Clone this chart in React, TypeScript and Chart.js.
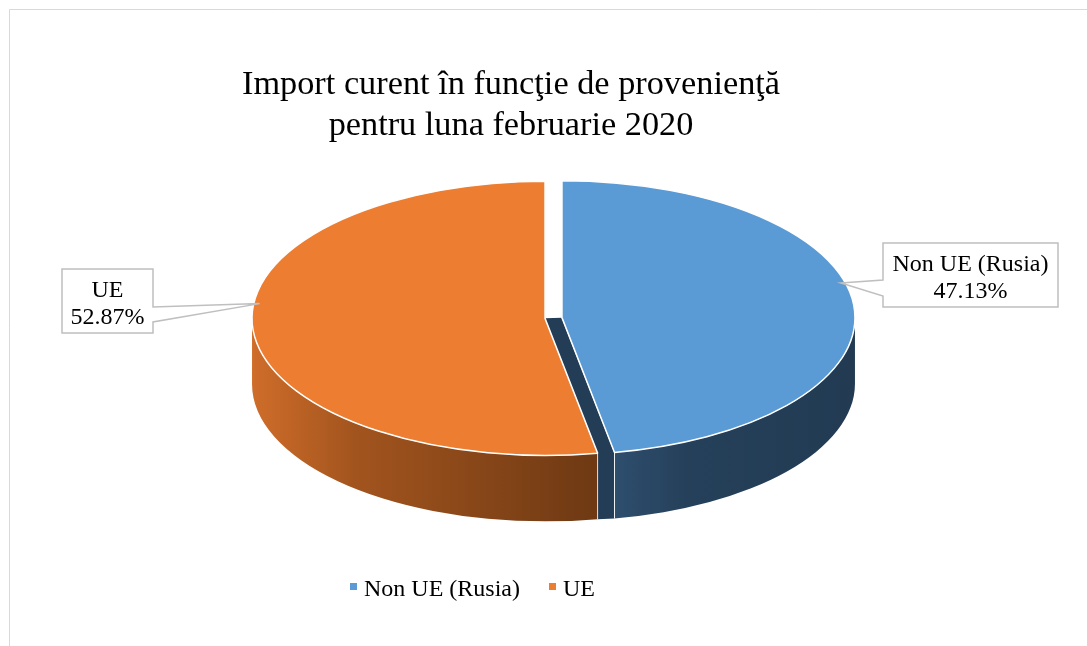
import React, { useEffect, useRef } from 'react';
import { Chart, registerables } from 'chart.js';

Chart.register(...registerables);

// ---- data ----
const categories = ['Non UE (Rusia)', 'UE'];
const shares = [47.13, 52.87];
const sliceColors = ['#5B9BD5', '#ED7D31'];
const wallColors = [
  ['#2E4E6E', '#25405A', '#223B53'],
  ['#CF6D2A', '#A2541E', '#6E3913'],
];
const faceColors = ['#233D56', '#8A4718'];
const titleLines = ['Import curent în funcţie de provenienţă', 'pentru luna februarie 2020'];

// ---- look ----
const FONT = "'Liberation Serif', 'Times New Roman', serif";
const CX = 553.5;
const CY = 318;
const RX = 293;
const RY = 137;
const DEPTH = 66;
const EXPLODE = 8.5;

const labelBoxes = [
  { x: 883, y: 243, w: 175, h: 64, side: 'left', t0: 37, t1: 53, anchorAngle: -0.26, anchorR: 0.985 },
  { x: 62, y: 269, w: 91, h: 64, side: 'right', t0: 38, t1: 53, anchorAngle: Math.PI + 0.11, anchorR: 0.98 },
];

type Geom = { cx: number; cy: number; a: number; b: number };

function geomOf(arc: any): Geom {
  const mid = (arc.startAngle + arc.endAngle) / 2;
  return {
    cx: CX + EXPLODE * Math.cos(mid),
    cy: CY + EXPLODE * (RY / RX) * Math.sin(mid),
    a: arc.startAngle,
    b: arc.endAngle,
  };
}

const pie3d = {
  id: 'pie3d',
  beforeDraw(chart: any) {
    const ctx = chart.ctx;
    ctx.save();
    ctx.strokeStyle = '#D9D9D9';
    ctx.lineWidth = 1;
    ctx.beginPath();
    ctx.moveTo(9.5, chart.height);
    ctx.lineTo(9.5, 9.5);
    ctx.lineTo(chart.width, 9.5);
    ctx.stroke();
    ctx.restore();
  },
  beforeDatasetsDraw(chart: any) {
    const ctx = chart.ctx;
    const arcs = chart.getDatasetMeta(0).data;
    const geoms: Geom[] = arcs.map(geomOf);
    const n = geoms.length;

    // radial (cut) faces
    geoms.forEach((g, i) => {
      const nx = geoms[(i + 1) % n];
      const b = g.b;
      if (Math.cos(b) > 0.01) {
        const rx1 = g.cx + RX * Math.cos(b);
        const ry1 = g.cy + RY * Math.sin(b);
        const rx2 = nx.cx + RX * Math.cos(b);
        const ry2 = nx.cy + RY * Math.sin(b);
        ctx.save();
        ctx.fillStyle = faceColors[i];
        ctx.beginPath();
        ctx.moveTo(g.cx, g.cy);
        ctx.lineTo(rx1, ry1);
        ctx.lineTo(rx1, ry1 + DEPTH);
        ctx.lineTo(rx2, ry2 + DEPTH);
        ctx.lineTo(nx.cx, nx.cy);
        ctx.closePath();
        ctx.fill();
        ctx.strokeStyle = 'rgba(255,255,255,0.8)';
        ctx.lineWidth = 1;
        ctx.beginPath();
        ctx.moveTo(g.cx, g.cy);
        ctx.lineTo(rx1, ry1);
        ctx.lineTo(rx1, ry1 + DEPTH);
        ctx.stroke();
        ctx.restore();
      }
    });

    // outer walls (front half only)
    geoms.forEach((g, i) => {
      const lo = Math.max(g.a, 0);
      const hi = Math.min(g.b, Math.PI);
      if (hi <= lo) return;
      const xs = [g.cx + RX * Math.cos(lo), g.cx + RX * Math.cos(hi)];
      const xl = Math.min(...xs, lo <= Math.PI && hi >= Math.PI ? g.cx - RX : Infinity);
      const xr = Math.max(...xs, lo <= 0 ? g.cx + RX : -Infinity);
      const grad = ctx.createLinearGradient(xl, 0, xr, 0);
      const cols = wallColors[i];
      grad.addColorStop(0, cols[0]);
      grad.addColorStop(0.3, cols[1]);
      grad.addColorStop(1, cols[2]);
      ctx.save();
      ctx.fillStyle = grad;
      ctx.beginPath();
      ctx.ellipse(g.cx, g.cy, RX, RY, 0, lo, hi, false);
      ctx.lineTo(g.cx + RX * Math.cos(hi), g.cy + RY * Math.sin(hi) + DEPTH);
      ctx.ellipse(g.cx, g.cy + DEPTH, RX, RY, 0, hi, lo, true);
      ctx.closePath();
      ctx.fill();
      ctx.strokeStyle = 'rgba(255,255,255,0.85)';
      ctx.lineWidth = 1;
      ctx.beginPath();
      if (lo > 0.001) {
        const x0 = g.cx + RX * Math.cos(lo);
        const y0 = g.cy + RY * Math.sin(lo);
        ctx.moveTo(x0, y0);
        ctx.lineTo(x0, y0 + DEPTH);
      }
      if (hi < Math.PI - 0.001) {
        const x1 = g.cx + RX * Math.cos(hi);
        const y1 = g.cy + RY * Math.sin(hi);
        ctx.moveTo(x1, y1);
        ctx.lineTo(x1, y1 + DEPTH);
      }
      ctx.stroke();
      ctx.restore();
    });

    // top faces drawn by the library's arc elements, flattened
    arcs.forEach((arc: any, i: number) => {
      const g = geoms[i];
      const R = arc.outerRadius;
      ctx.save();
      ctx.translate(g.cx, g.cy);
      ctx.scale(RX / R, RY / R);
      ctx.translate(-arc.x, -arc.y);
      arc.draw(ctx);
      ctx.restore();
    });

    // white edges of top faces
    geoms.forEach((g) => {
      ctx.save();
      ctx.strokeStyle = '#FFFFFF';
      ctx.lineWidth = 1.5;
      ctx.lineJoin = 'round';
      ctx.beginPath();
      ctx.moveTo(g.cx, g.cy);
      ctx.ellipse(g.cx, g.cy, RX, RY, 0, g.a, g.b, false);
      ctx.closePath();
      ctx.stroke();
      ctx.restore();
    });
    return false;
  },
  afterDraw(chart: any) {
    const ctx = chart.ctx;
    const arcs = chart.getDatasetMeta(0).data;
    const geoms: Geom[] = arcs.map(geomOf);
    const values = chart.data.datasets[0].data as number[];
    const labels = chart.data.labels as string[];

    // callouts
    labelBoxes.forEach((bx, i) => {
      const g = geoms[i];
      const ax = g.cx + bx.anchorR * RX * Math.cos(bx.anchorAngle);
      const ay = g.cy + bx.anchorR * RY * Math.sin(bx.anchorAngle);
      const { x, y, w, h, t0, t1 } = bx;
      ctx.save();
      ctx.beginPath();
      if (bx.side === 'right') {
        ctx.moveTo(x, y);
        ctx.lineTo(x + w, y);
        ctx.lineTo(x + w, y + t0);
        ctx.lineTo(ax, ay);
        ctx.lineTo(x + w, y + t1);
        ctx.lineTo(x + w, y + h);
        ctx.lineTo(x, y + h);
      } else {
        ctx.moveTo(x, y);
        ctx.lineTo(x + w, y);
        ctx.lineTo(x + w, y + h);
        ctx.lineTo(x, y + h);
        ctx.lineTo(x, y + t1);
        ctx.lineTo(ax, ay);
        ctx.lineTo(x, y + t0);
      }
      ctx.closePath();
      ctx.fillStyle = '#FFFFFF';
      ctx.fill();
      ctx.strokeStyle = '#BFBFBF';
      ctx.lineWidth = 1.5;
      ctx.stroke();
      ctx.fillStyle = '#000000';
      ctx.font = `24px ${FONT}`;
      ctx.textAlign = 'center';
      ctx.textBaseline = 'alphabetic';
      ctx.fillText(labels[i], x + w / 2, y + 27.5);
      ctx.fillText(values[i].toFixed(2) + '%', x + w / 2, y + 54.5);
      ctx.restore();
    });

    // legend
    const legendX = [350, 549];
    ctx.save();
    ctx.font = `24px ${FONT}`;
    ctx.textAlign = 'left';
    ctx.textBaseline = 'alphabetic';
    labels.forEach((lab, i) => {
      ctx.fillStyle = sliceColors[i];
      ctx.fillRect(legendX[i], 583, 7, 7);
      ctx.fillStyle = '#000000';
      ctx.fillText(lab, legendX[i] + 14, 596);
    });
    ctx.restore();
  },
};

export default function App() {
  const canvasRef = useRef<HTMLCanvasElement | null>(null);

  useEffect(() => {
    if (!canvasRef.current) return;
    const chart = new Chart(canvasRef.current, {
      type: 'pie',
      data: {
        labels: categories,
        datasets: [
          {
            data: shares,
            backgroundColor: sliceColors,
            borderWidth: 0,
          },
        ],
      },
      options: {
        responsive: true,
        maintainAspectRatio: false,
        animation: false,
        layout: { padding: { left: 0, right: 65, top: 0, bottom: 80 } },
        plugins: {
          legend: { display: false },
          tooltip: { enabled: false },
          title: {
            display: true,
            text: titleLines,
            color: '#000000',
            font: { family: FONT, size: 34.3, weight: 'normal', lineHeight: 1.2 },
            padding: { top: 64.5, bottom: 10 },
          },
        },
      },
      plugins: [pie3d],
    });
    return () => chart.destroy();
  }, []);

  return (
    <div style={{ position: 'fixed', left: 0, top: 0, width: 1087, height: 646, background: '#FFFFFF' }}>
      <canvas ref={canvasRef} />
    </div>
  );
}
